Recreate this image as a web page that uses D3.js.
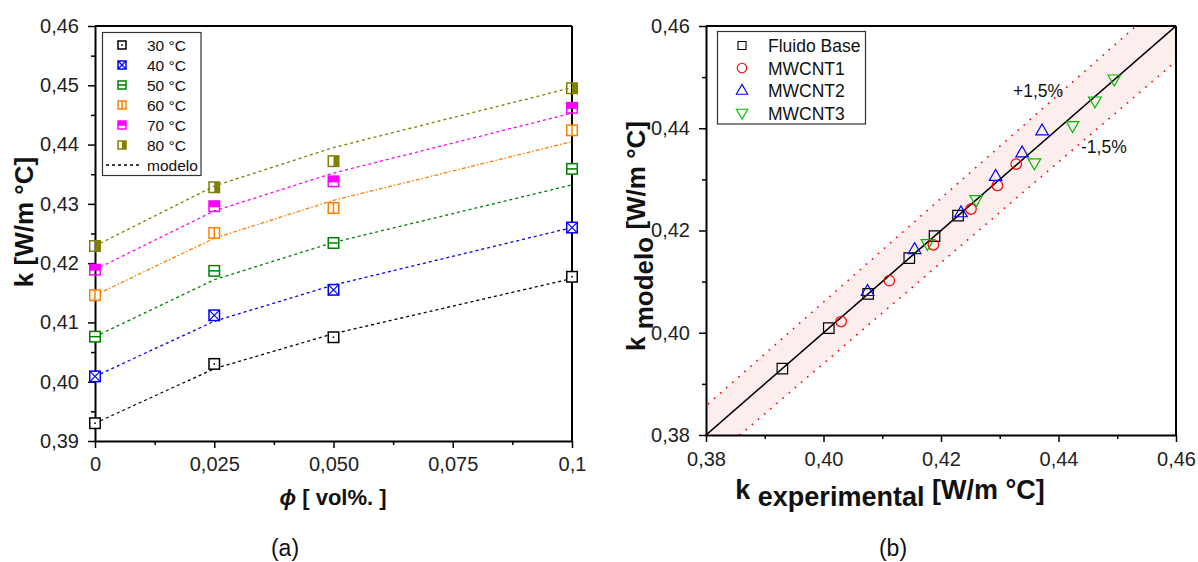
<!DOCTYPE html>
<html><head><meta charset="utf-8">
<script src="https://cdn.jsdelivr.net/npm/d3@7"></script>
<style>
body{margin:0;background:#fff}
svg{display:block;font-family:"Liberation Sans",Arial,sans-serif}
</style>
</head><body>
<svg id="chart" width="1198" height="562"></svg>
<script>
// Volume fraction of nanotubes
const phi = [0, 0.025, 0.05, 0.1];
const phiTickValues = [0, 0.025, 0.05, 0.075, 0.1];
const phiTickLabels = ["0", "0,025", "0,050", "0,075", "0,1"];

const temperatures = ["30 °C", "40 °C", "50 °C", "60 °C", "70 °C", "80 °C"];
const tempColors = ["#000000", "#0000ff", "#008000", "#ff8000", "#ff00ff", "#808000"];

// Measured conductivity k [W/m °C] at each phi
const kExp30 = [0.3930, 0.4030, 0.4075, 0.4177];
const kExp40 = [0.4009, 0.4112, 0.4155, 0.4260];
const kExp50 = [0.4076, 0.4187, 0.4234, 0.4359];
const kExp60 = [0.4146, 0.4251, 0.4293, 0.4424];
const kExp70 = [0.4189, 0.4296, 0.4338, 0.4462];
const kExp80 = [0.4229, 0.4328, 0.4372, 0.4495];

// Model prediction k [W/m °C] at each phi
const kMod30 = [0.3930, 0.4022, 0.4081, 0.4174];
const kMod40 = [0.4009, 0.4102, 0.4163, 0.4260];
const kMod50 = [0.4076, 0.4172, 0.4235, 0.4332];
const kMod60 = [0.4146, 0.4242, 0.4306, 0.4405];
const kMod70 = [0.4189, 0.4288, 0.4352, 0.4453];
const kMod80 = [0.4229, 0.4330, 0.4395, 0.4496];

const kLeftTicks = [0.39, 0.40, 0.41, 0.42, 0.43, 0.44, 0.45, 0.46];
const kRightTicks = [0.38, 0.40, 0.42, 0.44, 0.46];

// One series per nanofluid sample (index into phi)
const sampleNames = ["Fluido Base", "MWCNT1", "MWCNT2", "MWCNT3"];
const sampleColors = ["#000000", "#ff0000", "#0000ff", "#00bb00"];
const bandPercent = 1.5;

const kExp = [kExp30, kExp40, kExp50, kExp60, kExp70, kExp80];
const kMod = [kMod30, kMod40, kMod50, kMod60, kMod70, kMod80];
const markerKinds = ["dot", "cross", "hline", "vline", "tophalf", "righthalf"];

const svg = d3.select("#chart");
const comma = v => String(v).replace(".", ",");
const fmt2 = v => d3.format(".2f")(v).replace(".", ",");

function styleAxis(g) {
  g.selectAll(".domain").attr("stroke", "#000").attr("stroke-width", 2);
  g.selectAll(".tick line").attr("stroke", "#000").attr("stroke-width", 1.5);
  g.selectAll(".tick text").attr("font-size", 20).attr("fill", "#222")
    .attr("font-family", "'Liberation Sans', Arial, sans-serif");
}
function minor(g) {
  g.selectAll(".domain").remove();
  g.selectAll(".tick line").attr("stroke", "#000").attr("stroke-width", 1.5);
}

// Square marker with inner pattern
function drawMarker(g, kind, color, s) {
  const h = s / 2;
  if (kind === "tophalf") {
    g.append("rect").attr("x", -h).attr("y", -h).attr("width", s).attr("height", s * 0.6).attr("fill", color);
  } else if (kind === "righthalf") {
    g.append("rect").attr("x", 0).attr("y", -h).attr("width", h).attr("height", s).attr("fill", color);
  }
  g.append("rect").attr("x", -h).attr("y", -h).attr("width", s).attr("height", s)
    .attr("fill", kind === "tophalf" || kind === "righthalf" ? "none" : "#fff")
    .attr("stroke", color).attr("stroke-width", 1.5);
  if (kind === "dot") {
    g.append("rect").attr("x", -0.8).attr("y", -0.8).attr("width", 1.6).attr("height", 1.6).attr("fill", color);
  } else if (kind === "cross") {
    g.append("path").attr("d", `M${-h},${-h}L${h},${h}M${h},${-h}L${-h},${h}`).attr("stroke", color).attr("stroke-width", 1.2);
  } else if (kind === "hline") {
    g.append("path").attr("d", `M${-h},0L${h},0`).attr("stroke", color).attr("stroke-width", 1.5);
  } else if (kind === "vline") {
    g.append("path").attr("d", `M0,${-h}L0,${h}`).attr("stroke", color).attr("stroke-width", 1.5);
  }
}

/* ---------- Panel (a): k versus phi ---------- */
const xA = d3.scaleLinear().domain([0, 0.1]).range([95, 572]);
const yA = d3.scaleLinear().domain([0.39, 0.46]).range([441, 26]);

const pa = svg.append("g");
pa.append("line").attr("x1", xA(0)).attr("x2", xA(0.1)).attr("y1", yA(0.46)).attr("y2", yA(0.46)).attr("stroke", "#000").attr("stroke-width", 2);
pa.append("line").attr("x1", xA(0.1)).attr("x2", xA(0.1)).attr("y1", yA(0.46)).attr("y2", yA(0.39)).attr("stroke", "#000").attr("stroke-width", 2);

pa.append("g").attr("transform", `translate(0,${yA(0.39)})`)
  .call(d3.axisBottom(xA).tickValues([0.0125, 0.0375, 0.0625, 0.0875]).tickSize(4).tickFormat("")).call(minor);
pa.append("g").attr("transform", `translate(${xA(0)},0)`)
  .call(d3.axisLeft(yA).tickValues(d3.range(7).map(i => 0.395 + i * 0.01)).tickSize(4).tickFormat("")).call(minor);
pa.append("g").attr("transform", `translate(0,${yA(0.39)})`)
  .call(d3.axisBottom(xA).tickValues(phiTickValues).tickSize(7).tickSizeOuter(0).tickPadding(9)
    .tickFormat((d, i) => phiTickLabels[i])).call(styleAxis);
pa.append("g").attr("transform", `translate(${xA(0)},0)`)
  .call(d3.axisLeft(yA).tickValues(kLeftTicks).tickSize(7).tickSizeOuter(0).tickPadding(9).tickFormat(fmt2)).call(styleAxis);

const modelLine = d3.line().x((d, i) => xA(phi[i])).y(d => yA(d));
kMod.forEach((series, t) => {
  pa.append("path").attr("d", modelLine(series)).attr("fill", "none")
    .attr("stroke", tempColors[t]).attr("stroke-width", 1.3)
    .attr("stroke-dasharray", t === 3 ? "4,2,1.5,2" : "3,3");
});
kExp.forEach((series, t) => {
  series.forEach((v, i) => {
    const g = pa.append("g").attr("transform", `translate(${xA(phi[i])},${yA(v)})`);
    drawMarker(g, markerKinds[t], tempColors[t], 10.5);
  });
});

// legend (a)
const la = pa.append("g");
la.append("rect").attr("x", 102.5).attr("y", 32.5).attr("width", 98.5).attr("height", 143)
  .attr("fill", "#fff").attr("stroke", "#333").attr("stroke-width", 1.2);
temperatures.forEach((name, t) => {
  const y = 45 + 20 * t;
  drawMarker(la.append("g").attr("transform", `translate(122,${y})`), markerKinds[t], tempColors[t], 8);
  la.append("text").attr("x", 147).attr("y", y + 5.5).attr("font-size", 15.5).attr("fill", "#111").text(name);
});
la.append("line").attr("x1", 106).attr("x2", 140).attr("y1", 165).attr("y2", 165)
  .attr("stroke", "#000").attr("stroke-width", 1.3).attr("stroke-dasharray", "3,3");
la.append("text").attr("x", 147).attr("y", 170.5).attr("font-size", 15.5).attr("fill", "#111").text("modelo");

// titles (a)
pa.append("text").attr("transform", "translate(33,222) rotate(-90)").attr("text-anchor", "middle")
  .attr("font-size", 26).attr("font-weight", "bold").attr("fill", "#111").text("k [W/m °C]");
const xtA = pa.append("text").attr("x", 333).attr("y", 505).attr("text-anchor", "middle")
  .attr("font-size", 22).attr("font-weight", "bold").attr("fill", "#111");
xtA.append("tspan").attr("font-style", "italic").text("ϕ");
xtA.append("tspan").text(" [ vol%. ]");
pa.append("text").attr("x", 285).attr("y", 556).attr("text-anchor", "middle").attr("font-size", 23).attr("fill", "#111").text("(a)");

/* ---------- Panel (b): model versus experiment ---------- */
const xB = d3.scaleLinear().domain([0.38, 0.46]).range([706, 1176]);
const yB = d3.scaleLinear().domain([0.38, 0.46]).range([435, 26]);
const pb = svg.append("g");

const clip = svg.append("defs").append("clipPath").attr("id", "clipB");
clip.append("rect").attr("x", xB(0.38)).attr("y", yB(0.46)).attr("width", xB(0.46) - xB(0.38)).attr("height", yB(0.38) - yB(0.46));

const band = pb.append("g").attr("clip-path", "url(#clipB)");
const up = 1 + bandPercent / 100, dn = 1 - bandPercent / 100;
const lo = 0.37, hi = 0.47;
band.append("path")
  .attr("d", `M${xB(lo)},${yB(lo * up)}L${xB(hi)},${yB(hi * up)}L${xB(hi)},${yB(hi * dn)}L${xB(lo)},${yB(lo * dn)}Z`)
  .attr("fill", "#fdeeee");
[up, dn].forEach(f => {
  band.append("line").attr("x1", xB(lo)).attr("y1", yB(lo * f)).attr("x2", xB(hi)).attr("y2", yB(hi * f))
    .attr("stroke", "#ff0000").attr("stroke-width", 1.6).attr("stroke-dasharray", "1.6,6.5");
});
band.append("line").attr("x1", xB(0.38)).attr("y1", yB(0.38)).attr("x2", xB(0.46)).attr("y2", yB(0.46))
  .attr("stroke", "#000").attr("stroke-width", 1.6);

pb.append("line").attr("x1", xB(0.38)).attr("x2", xB(0.46)).attr("y1", yB(0.46)).attr("y2", yB(0.46)).attr("stroke", "#000").attr("stroke-width", 2);
pb.append("line").attr("x1", xB(0.46)).attr("x2", xB(0.46)).attr("y1", yB(0.46)).attr("y2", yB(0.38)).attr("stroke", "#000").attr("stroke-width", 2);

pb.append("g").attr("transform", `translate(0,${yB(0.38)})`)
  .call(d3.axisBottom(xB).tickValues([0.39, 0.41, 0.43, 0.45]).tickSize(4).tickFormat("")).call(minor);
pb.append("g").attr("transform", `translate(${xB(0.38)},0)`)
  .call(d3.axisLeft(yB).tickValues([0.39, 0.41, 0.43, 0.45]).tickSize(4).tickFormat("")).call(minor);
pb.append("g").attr("transform", `translate(0,${yB(0.38)})`)
  .call(d3.axisBottom(xB).tickValues(kRightTicks).tickSize(7).tickSizeOuter(0).tickPadding(10).tickFormat(fmt2)).call(styleAxis);
pb.append("g").attr("transform", `translate(${xB(0.38)},0)`)
  .call(d3.axisLeft(yB).tickValues(kRightTicks).tickSize(7).tickSizeOuter(0).tickPadding(9).tickFormat(fmt2)).call(styleAxis);

function triangle(s, down) {
  const h = s * 0.866, k = down ? -1 : 1;
  return `M0,${-k * h * 0.62}L${s / 2},${k * h * 0.38}L${-s / 2},${k * h * 0.38}Z`;
}
function sampleShape(j, s) {
  if (j === 0) return `M${-s / 2},${-s / 2}h${s}v${s}h${-s}Z`;
  if (j === 1) return d3.symbol().type(d3.symbolCircle).size(Math.PI * (s / 2) * (s / 2))();
  return triangle(s * 1.2, j === 3);
}
const pts = pb.append("g").attr("clip-path", "url(#clipB)");
phi.forEach((p, j) => {
  kExp.forEach((series, t) => {
    pts.append("path").attr("d", sampleShape(j, 10.5))
      .attr("transform", `translate(${xB(series[j])},${yB(kMod[t][j])})`)
      .attr("fill", "none").attr("stroke", sampleColors[j]).attr("stroke-width", 1.2);
  });
});

// legend (b)
const lb = pb.append("g");
lb.append("rect").attr("x", 717.5).attr("y", 31.5).attr("width", 148).attr("height", 92.5)
  .attr("fill", "#fff").attr("stroke", "#333").attr("stroke-width", 1.2);
sampleNames.forEach((name, j) => {
  const y = 45.5 + 22.5 * j;
  lb.append("path").attr("d", sampleShape(j, j === 0 ? 8 : 9.5)).attr("transform", `translate(742,${y})`)
    .attr("fill", "none").attr("stroke", sampleColors[j]).attr("stroke-width", 1.1);
  lb.append("text").attr("x", 768).attr("y", y + 6.5).attr("font-size", 17.5).attr("fill", "#111").text(name);
});

pb.append("text").attr("x", 1013).attr("y", 97).attr("font-size", 17.5).attr("fill", "#111").text("+" + comma(bandPercent) + "%");
pb.append("text").attr("x", 1081).attr("y", 153).attr("font-size", 17.5).attr("fill", "#111").text("-" + comma(bandPercent) + "%");

// titles (b)
const ytB = pb.append("text").attr("transform", "translate(645,236) rotate(-90)").attr("text-anchor", "middle")
  .attr("font-size", 26).attr("font-weight", "bold").attr("fill", "#111");
ytB.append("tspan").text("k ");
ytB.append("tspan").attr("dy", 8).text("modelo");
ytB.append("tspan").attr("dy", -8).text(" [W/m °C]");
const xtB = pb.append("text").attr("x", 890).attr("y", 499).attr("text-anchor", "middle")
  .attr("font-size", 27).attr("font-weight", "bold").attr("fill", "#111");
xtB.append("tspan").text("k ");
xtB.append("tspan").attr("dy", 7).text("experimental");
xtB.append("tspan").attr("dy", -7).text(" [W/m °C]");
pb.append("text").attr("x", 893).attr("y", 556).attr("text-anchor", "middle").attr("font-size", 23).attr("fill", "#111").text("(b)");
</script>
</body></html>
